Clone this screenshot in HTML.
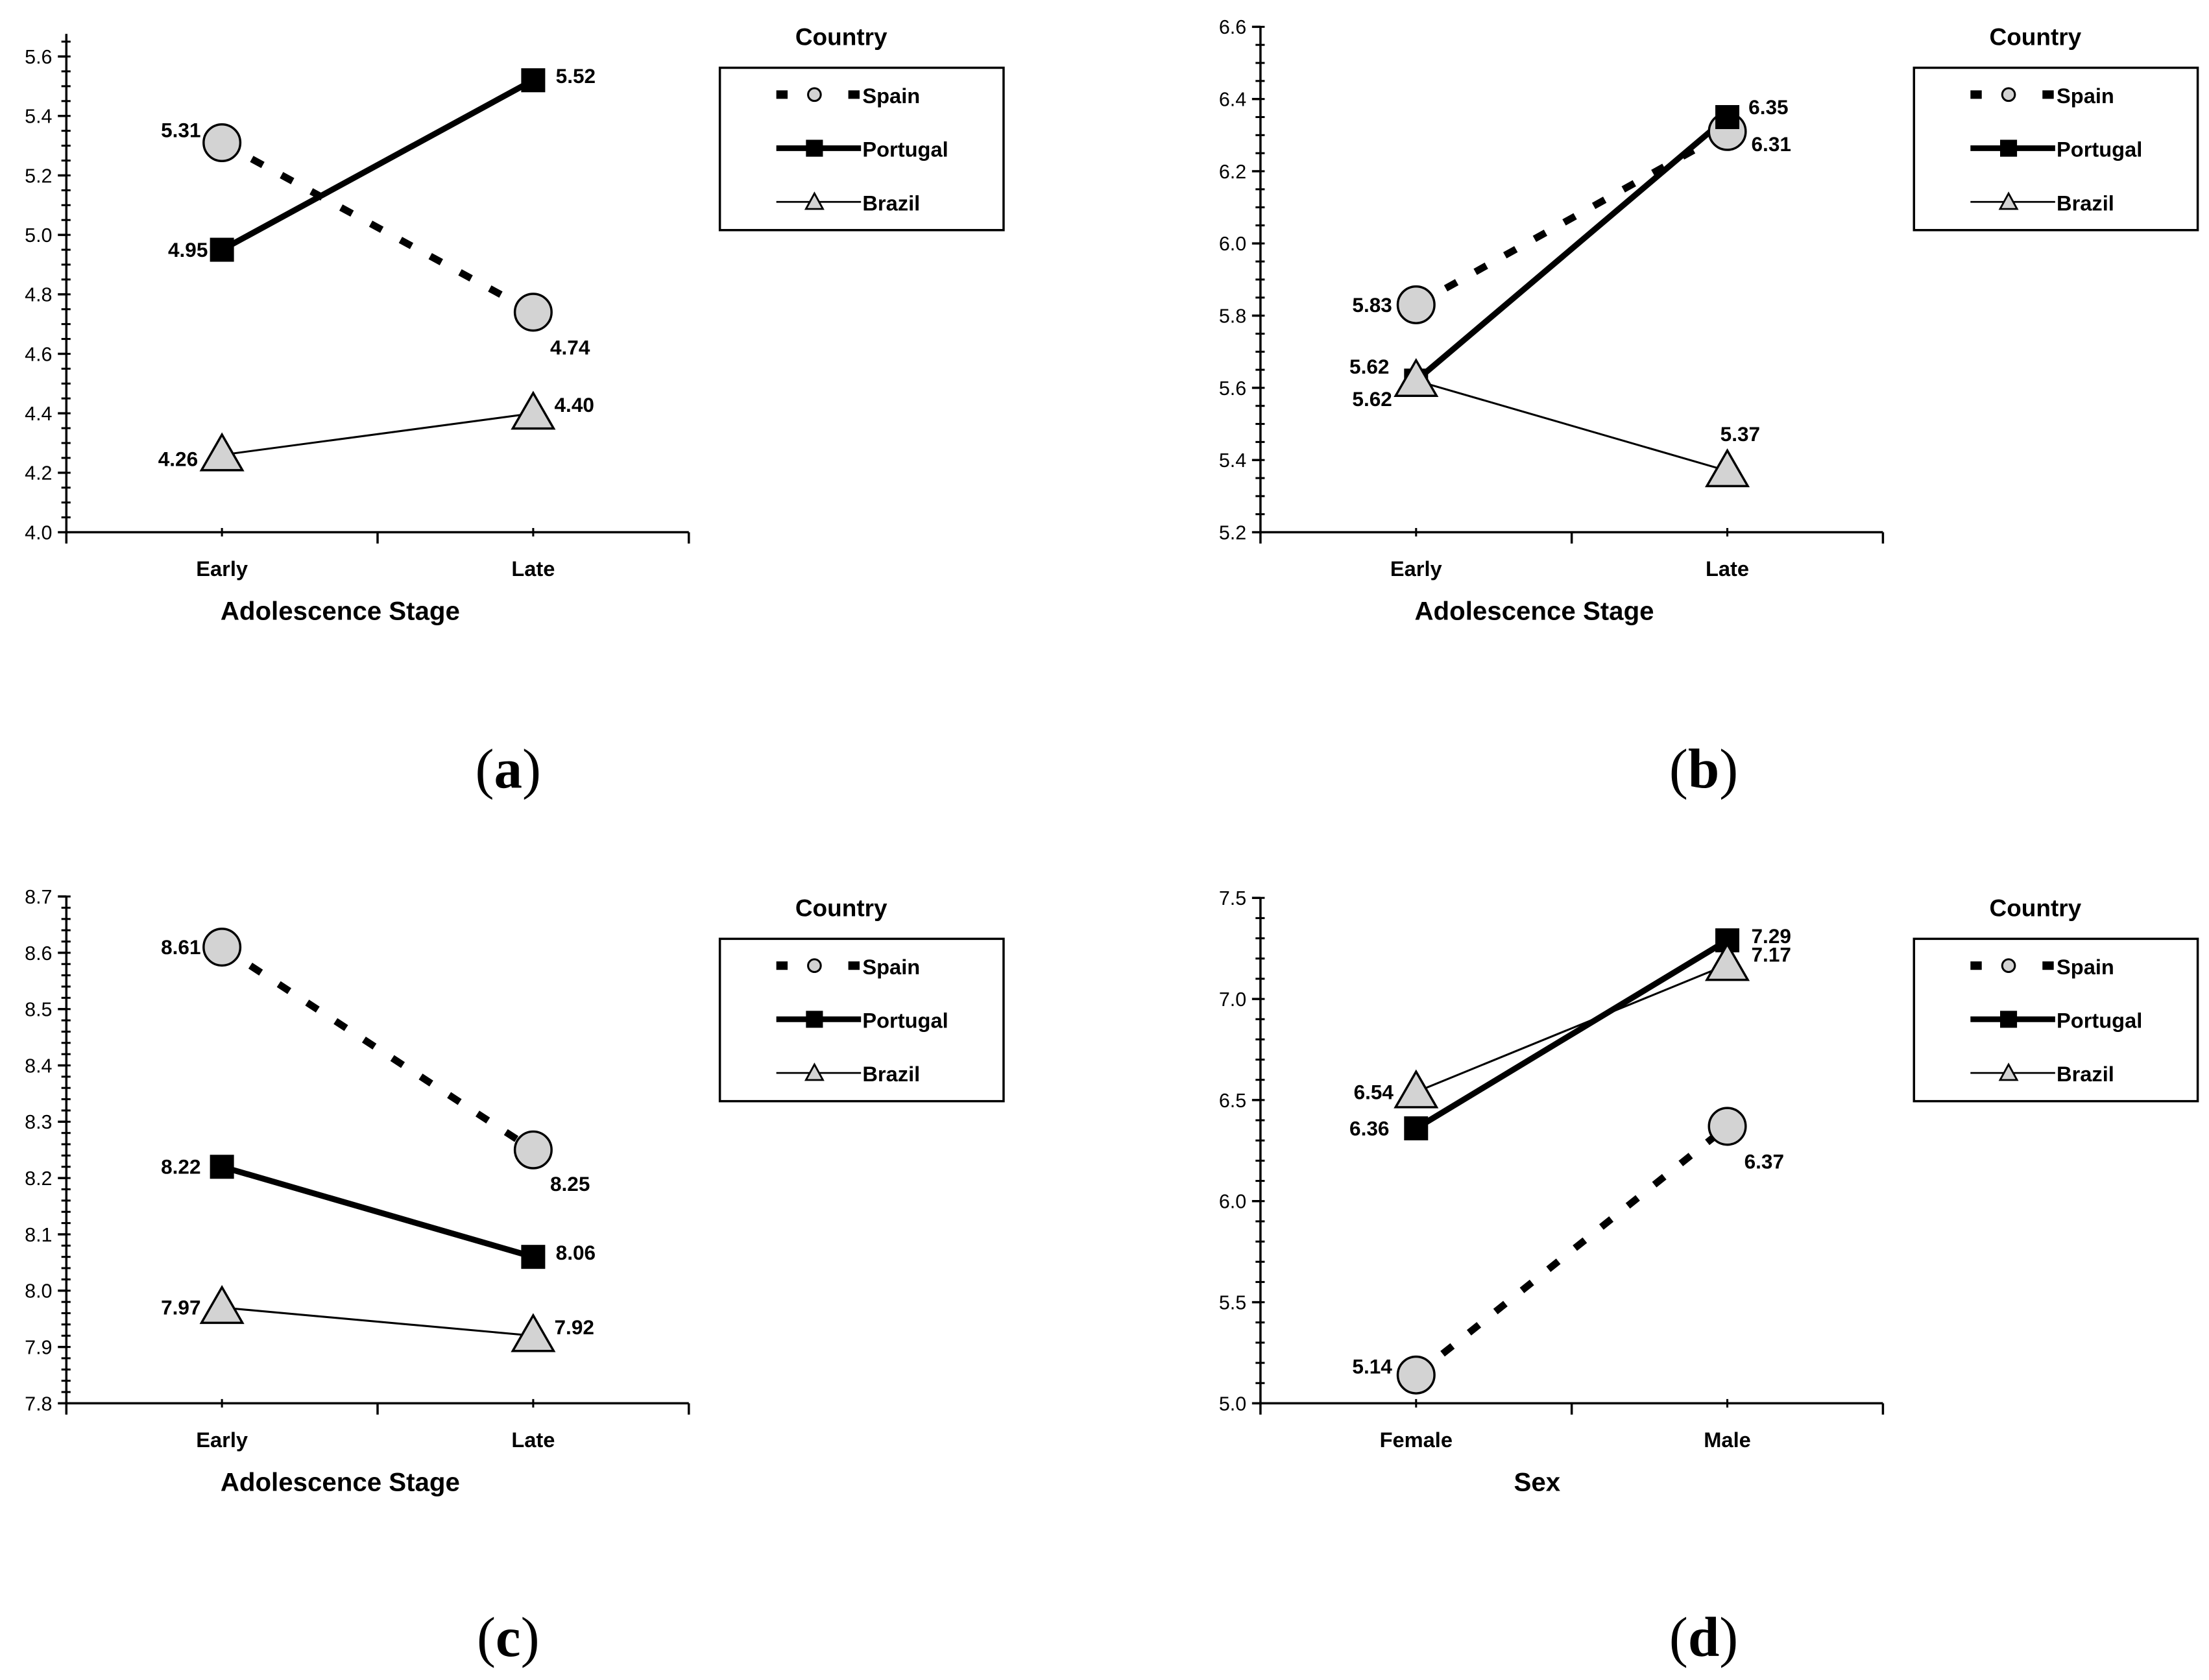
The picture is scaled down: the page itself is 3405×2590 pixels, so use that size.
<!DOCTYPE html>
<html><head><meta charset="utf-8">
<style>
html,body{margin:0;padding:0;background:#fff;}
svg{display:block;}
</style></head>
<body>
<svg id="fig" xmlns="http://www.w3.org/2000/svg" width="3405" height="2590" viewBox="0 0 1565 1190" preserveAspectRatio="none" font-family="Liberation Sans, Arial, sans-serif">
<rect width="1565" height="1190" fill="#fff"/>
</svg>
<script>
// ---- data ----
const seriesNames = ["Spain", "Portugal", "Brazil"];
const catsA = ["Early", "Late"];
const catsD = ["Female", "Male"];
const spainA = [5.31, 4.74], portugalA = [4.95, 5.52], brazilA = [4.26, 4.40];
const spainB = [5.83, 6.31], portugalB = [5.62, 6.35], brazilB = [5.62, 5.37];
const spainC = [8.61, 8.25], portugalC = [8.22, 8.06], brazilC = [7.97, 7.92];
const spainD = [5.14, 6.37], portugalD = [6.36, 7.29], brazilD = [6.54, 7.17];
const ticksA = ["4.0","4.2","4.4","4.6","4.8","5.0","5.2","5.4","5.6"];
const ticksB = ["5.2","5.4","5.6","5.8","6.0","6.2","6.4","6.6"];
const ticksC = ["7.8","7.9","8.0","8.1","8.2","8.3","8.4","8.5","8.6","8.7"];
const ticksD = ["5.0","5.5","6.0","6.5","7.0","7.5"];

// label placement (style, not data): [dx, dy, anchor] per series per category
const labA = [[[-15,-9,'end'],[12,25,'start']],[[-10,0,'end'],[16,-3,'start']],[[-17,3,'end'],[15,-6,'start']]];
const labB = [[[-17,0,'end'],[17,9,'start']],[[-19,-10,'end'],[15,-7,'start']],[[-17,13,'end'],[-5,-26,'start']]];
const labC = [[[-15,0,'end'],[12,24,'start']],[[-15,0,'end'],[16,-3,'start']],[[-15,0,'end'],[15,-6,'start']]];
const labD = [[[-17,-6,'end'],[12,25,'start']],[[-19,0,'end'],[17,-3,'start']],[[-16,0,'end'],[17,-7,'start']]];

const NS = "http://www.w3.org/2000/svg";
const svg = document.getElementById('fig');
function mk(tag, attrs, parent, txt){
  const e = document.createElementNS(NS, tag);
  for (const k in attrs) e.setAttribute(k, attrs[k]);
  if (txt !== undefined) e.textContent = txt;
  (parent || svg).appendChild(e);
  return e;
}

function marker(g, kind, x, y){
  let e;
  if (kind === 0){
    e = mk('circle', {cx:x, cy:y, r:13, fill:'#d3d3d3', stroke:'#000', 'stroke-width':1.6}, g);
  } else if (kind === 1){
    e = mk('rect', {x:x-8.5, y:y-8.5, width:17, height:17, fill:'#000'}, g);
  } else {
    const h = 24, w = 14.5;
    e = mk('polygon', {points:`${x},${y-h*0.6} ${x+w},${y+h*0.45} ${x-w},${y+h*0.45}`, fill:'#d3d3d3', stroke:'#000', 'stroke-width':1.6}, g);
  }
  return e;
}
const lineStyles = [
  {'stroke-width':5, 'stroke-dasharray':'9 15', stroke:'#000'},
  {'stroke-width':4.2, stroke:'#000'},
  {'stroke-width':1.4, stroke:'#000'}
];

function panel(opt){
  const g = mk('g', {});
  
  
  const {x0, x1, yTop, yBot, vmin, vmax, ticks, minor, cats, series, labs} = opt;
  const yOf = v => yBot - (v - vmin) / (vmax - vmin) * (yBot - opt.yMaxTick);
  const catX = [x0 + (x1 - x0) * 0.25, x0 + (x1 - x0) * 0.75];
  const ya = mk('line', {x1:x0, y1:yTop, x2:x0, y2:yBot, stroke:'#000', 'stroke-width':1.6}, g);
  
  
  for (let v = vmin; v <= vmax + 1e-9 + opt.extra; v += minor){
    const y = yOf(v);
    if (y < yTop - 0.5) break;
    mk('line', {x1:x0-3.5, y1:y, x2:x0+3, y2:y, stroke:'#000', 'stroke-width':1.4}, g);
  }
  ticks.forEach(t => {
    const y = yOf(parseFloat(t));
    mk('line', {x1:x0-6, y1:y, x2:x0, y2:y, stroke:'#000', 'stroke-width':1.6}, g);
    const tl = mk('text', {x:x0-10, y:y+5, 'font-size':14, 'text-anchor':'end', fill:'#000'}, g, t);
    
    
  });
  const xa = mk('line', {x1:x0, y1:yBot, x2:x1, y2:yBot, stroke:'#000', 'stroke-width':1.6}, g);
  
  
  [x0, (x0 + x1) / 2, x1].forEach(x => mk('line', {x1:x, y1:yBot, x2:x, y2:yBot+8, stroke:'#000', 'stroke-width':1.6}, g));
  catX.forEach(x => mk('line', {x1:x, y1:yBot-3, x2:x, y2:yBot+3, stroke:'#000', 'stroke-width':1.4}, g));
  cats.forEach((c, i) => {
    const t = mk('text', {x:catX[i], y:yBot+31, 'font-size':15, 'font-weight':'bold', 'text-anchor':'middle'}, g, c);
    
    
  });
  const at = mk('text', {x:opt.titleX, y:yBot+62, 'font-size':18.5, 'font-weight':'bold', 'text-anchor':'middle'}, g, opt.xTitle);
  
  
  series.forEach((vals, si) => {
    const ln = mk('line', Object.assign({x1:catX[0], y1:yOf(vals[0]), x2:catX[1], y2:yOf(vals[1]), fill:'none'}, lineStyles[si]), g);
    
    
  });
  series.forEach((vals, si) => {
    vals.forEach((v, ci) => {
      const m = marker(g, si, catX[ci], yOf(v));
      
      
    });
  });
  series.forEach((vals, si) => {
    vals.forEach((v, ci) => {
      const L = labs[si][ci];
      const t = mk('text', {x:catX[ci]+L[0], y:yOf(v)+L[1]+5, 'font-size':14.5, 'font-weight':'bold', 'text-anchor':L[2]}, g, v.toFixed(2));
      
      
    });
  });
  const lx = opt.legX, ly = opt.legY;
  const lt = mk('text', {x:lx+86, y:ly-16, 'font-size':17, 'font-weight':'bold', 'text-anchor':'middle'}, g, 'Country');
  
  
  const lb = mk('rect', {x:lx, y:ly, width:201, height:115, fill:'#fff', stroke:'#000', 'stroke-width':1.6}, g);
  
  
  seriesNames.forEach((n, i) => {
    const yy = ly + 19 + i * 38;
    const eg = mk('g', {}, g);
    
    
    if (i === 0){
      mk('rect', {x:lx+40, y:yy-3, width:8, height:6, fill:'#000'}, eg);
      mk('rect', {x:lx+91, y:yy-3, width:8, height:6, fill:'#000'}, eg);
      mk('circle', {cx:lx+67, cy:yy, r:4.5, fill:'#d3d3d3', stroke:'#000', 'stroke-width':1.4}, eg);
    } else if (i === 1){
      mk('line', {x1:lx+40, y1:yy, x2:lx+100, y2:yy, stroke:'#000', 'stroke-width':4}, eg);
      mk('rect', {x:lx+61, y:yy-6, width:12, height:12, fill:'#000'}, eg);
    } else {
      mk('line', {x1:lx+40, y1:yy, x2:lx+100, y2:yy, stroke:'#000', 'stroke-width':1.3}, eg);
      mk('polygon', {points:`${lx+67},${yy-6} ${lx+73},${yy+5} ${lx+61},${yy+5}`, fill:'#d3d3d3', stroke:'#000', 'stroke-width':1.3}, eg);
    }
    mk('text', {x:lx+101, y:yy+6, 'font-size':15, 'font-weight':'bold'}, eg, n);
  });
  const pl = mk('text', {x:opt.letterX, y:opt.letterY, 'font-size':40, 'text-anchor':'middle', 'font-family':'Liberation Serif, serif', style:'font-family:"Liberation Serif",serif'}, g);
  mk('tspan', {}, pl, '(');
  mk('tspan', {'font-weight':'bold'}, pl, opt.letter);
  mk('tspan', {}, pl, ')');
  
  
}

panel({name:'panel-a', x0:47, x1:488, yTop:24, yBot:377, yMaxTick:40, vmin:4.0, vmax:5.6, extra:0.1, minor:0.05,
  ticks:ticksA, cats:catsA, series:[spainA, portugalA, brazilA], labs:labA, xTitle:'Adolescence Stage', titleX:241,
  legX:510, legY:48, letter:'a', letterX:360, letterY:558});
panel({name:'panel-b', x0:893, x1:1334, yTop:19, yBot:377, yMaxTick:19, vmin:5.2, vmax:6.6, extra:0, minor:0.05,
  ticks:ticksB, cats:catsA, series:[spainB, portugalB, brazilB], labs:labB, xTitle:'Adolescence Stage', titleX:1087,
  legX:1356, legY:48, letter:'b', letterX:1207, letterY:558});
panel({name:'panel-c', x0:47, x1:488, yTop:635, yBot:994, yMaxTick:635, vmin:7.8, vmax:8.7, extra:0, minor:0.02,
  ticks:ticksC, cats:catsA, series:[spainC, portugalC, brazilC], labs:labC, xTitle:'Adolescence Stage', titleX:241,
  legX:510, legY:665, letter:'c', letterX:360, letterY:1173});
panel({name:'panel-d', x0:893, x1:1334, yTop:636, yBot:994, yMaxTick:636, vmin:5.0, vmax:7.5, extra:0, minor:0.1,
  ticks:ticksD, cats:catsD, series:[spainD, portugalD, brazilD], labs:labD, xTitle:'Sex', titleX:1089,
  legX:1356, legY:665, letter:'d', letterX:1207, letterY:1173});
</script>
</body></html>
